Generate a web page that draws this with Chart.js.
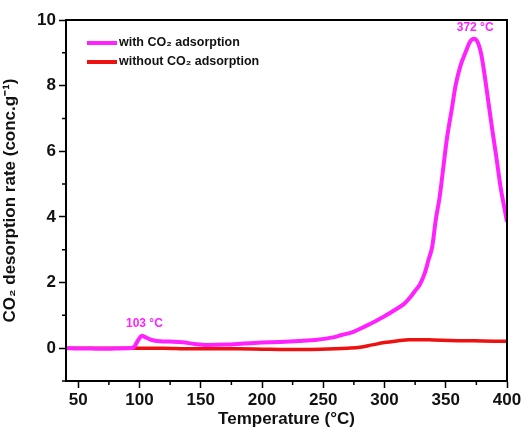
<!DOCTYPE html>
<html lang="en">
<head>
<meta charset="UTF-8">
<title>CO2 desorption rate</title>
<script src="https://cdn.jsdelivr.net/npm/chart.js"></script>
<style>
  html, body { margin: 0; padding: 0; background: #fff; }
  #wrap { width: 529px; height: 432px; }
</style>
</head>
<body>
<div id="wrap"><canvas id="tpd"></canvas></div>
<script>
// temperatures (°C) and rates
const tempWith = [40, 50, 60, 70, 80, 90, 95, 99, 102, 105, 110, 117, 125, 135, 145, 155, 170, 185, 200, 215, 230, 245, 258, 265, 274, 285, 293, 300, 310, 316, 321, 325, 329, 333, 336, 339, 342, 345, 348, 351, 355, 358, 362, 366, 370, 373, 376, 379, 382, 385, 388, 391, 395, 398, 400];
const rateWith = [0.0, -0.01, -0.01, -0.02, -0.01, 0.0, 0.02, 0.25, 0.38, 0.33, 0.25, 0.21, 0.2, 0.18, 0.13, 0.1, 0.11, 0.14, 0.17, 0.19, 0.22, 0.26, 0.33, 0.4, 0.49, 0.68, 0.83, 0.97, 1.2, 1.35, 1.55, 1.75, 1.95, 2.3, 2.7, 3.1, 3.95, 4.6, 5.5, 6.4, 7.3, 8.0, 8.6, 9.0, 9.35, 9.43, 9.33, 8.95, 8.25, 7.45, 6.65, 5.9, 4.85, 4.25, 3.85];

const tempWithout = [40, 60, 80, 100, 120, 140, 160, 180, 200, 220, 240, 260, 270, 280, 290, 300, 310, 320, 330, 340, 360, 380, 400];
const rateWithout = [0.0, 0.0, 0.0, 0.0, 0.0, -0.02, -0.02, -0.02, -0.03, -0.04, -0.04, -0.02, 0.0, 0.03, 0.1, 0.17, 0.22, 0.26, 0.26, 0.25, 0.23, 0.22, 0.21];

const xMinor = [75, 125, 175, 225, 275, 325, 375];
const yMinor = [-1, 1, 3, 5, 7, 9];

const peakLabels = [
  { text: '372 \u00b0C', x: 374, y: 9.78 },
  { text: '103 \u00b0C', x: 104, y: 0.75 }
];

const MAGENTA = '#ff22ff';
const RED = '#ee1111';

function toPoints(xs, ys) {
  return xs.map((x, i) => ({ x: x, y: ys[i] }));
}

// frame, minor ticks, legend and peak labels
const extras = {
  id: 'extras',
  afterDraw(chart) {
    const c = chart.ctx;
    const a = chart.chartArea;
    const xs = chart.scales.x, ys = chart.scales.y;
    c.save();
    c.strokeStyle = '#000';
    c.lineWidth = 2;
    c.strokeRect(a.left, a.top, a.right - a.left, a.bottom - a.top);

    c.lineWidth = 1.5;
    c.beginPath();
    xMinor.forEach(v => {
      const px = xs.getPixelForValue(v);
      c.moveTo(px, a.bottom); c.lineTo(px, a.bottom + 4);
    });
    yMinor.forEach(v => {
      const py = ys.getPixelForValue(v);
      c.moveTo(a.left, py); c.lineTo(a.left - 4, py);
    });
    c.stroke();

    // legend
    const items = [[MAGENTA, 'with CO\u2082 adsorption'], [RED, 'without CO\u2082 adsorption']];
    c.font = 'bold 12.5px "Liberation Sans", Arial, sans-serif';
    c.textBaseline = 'middle';
    c.textAlign = 'left';
    items.forEach((it, i) => {
      const y = 43 + i * 19;
      c.strokeStyle = it[0];
      c.lineWidth = 4;
      c.beginPath(); c.moveTo(87, y); c.lineTo(117, y); c.stroke();
      c.fillStyle = '#111';
      c.fillText(it[1], 119, y);
    });

    // peak labels
    c.font = 'bold 12px "Liberation Sans", Arial, sans-serif';
    c.fillStyle = MAGENTA;
    c.textAlign = 'center';
    peakLabels.forEach(p => {
      c.fillText(p.text, xs.getPixelForValue(p.x), ys.getPixelForValue(p.y));
    });
    c.restore();
  }
};

const tickFont = { family: '"Liberation Sans", Arial, sans-serif', size: 17, weight: 'bold' };

new Chart(document.getElementById('tpd'), {
  type: 'line',
  data: {
    datasets: [
      { label: 'with CO2 adsorption', data: toPoints(tempWith, rateWith), borderColor: MAGENTA, borderWidth: 4, pointRadius: 0, cubicInterpolationMode: 'monotone' },
      { label: 'without CO2 adsorption', data: toPoints(tempWithout, rateWithout), borderColor: RED, borderWidth: 3.5, pointRadius: 0, cubicInterpolationMode: 'monotone' }
    ]
  },
  options: {
    responsive: true,
    maintainAspectRatio: false,
    animation: false,
    layout: { padding: { top: 20, right: 22, left: 0, bottom: 0 } },
    plugins: { legend: { display: false }, tooltip: { enabled: false } },
    scales: {
      x: {
        type: 'linear', min: 40, max: 400,
        ticks: { stepSize: 50, includeBounds: false, color: '#111', font: tickFont, padding: 2, maxRotation: 0 },
        grid: { drawOnChartArea: false, tickLength: 7, tickColor: '#000', tickWidth: 1.5 },
        border: { color: '#000', width: 2 },
        title: { display: true, text: 'Temperature (\u00b0C)', color: '#111', font: tickFont, padding: { top: 0, bottom: 2 } },
        afterFit(s) { s.height = 51; }
      },
      y: {
        min: -1, max: 10,
        ticks: { stepSize: 2, includeBounds: false, color: '#111', font: tickFont, padding: 3 },
        grid: { drawOnChartArea: false, tickLength: 7, tickColor: '#000', tickWidth: 1.5 },
        border: { color: '#000', width: 2 },
        title: { display: true, text: 'CO\u2082 desorption rate (conc.g\u207b\u00b9)', color: '#111', font: tickFont, padding: { top: 0, bottom: 2 } },
        afterFit(s) { s.width = 66; }
      }
    }
  },
  plugins: [extras]
});
</script>
</body>
</html>
